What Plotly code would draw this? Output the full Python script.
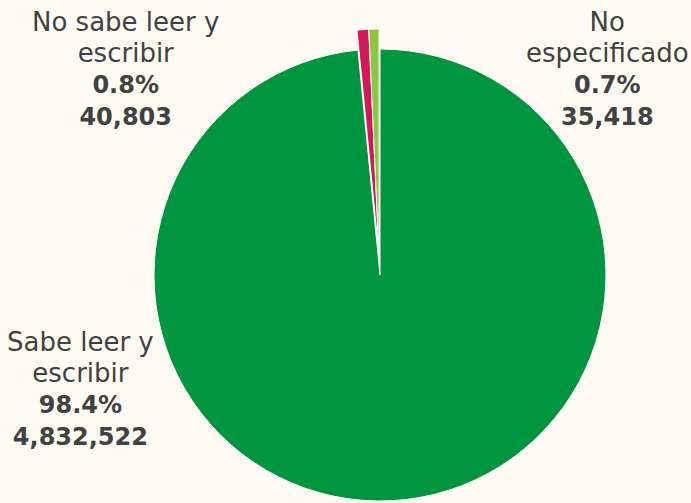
import math
import plotly.graph_objects as go

# ---- data ----
categories = ["Sabe leer y escribir", "No sabe leer y escribir", "No especificado"]
label_lines = ["Sabe leer y<br>escribir", "No sabe leer y<br>escribir", "No<br>especificado"]
values = [4832522, 40803, 35418]
colors = ["#00953F", "#D5185B", "#8CC63F"]

# ---- geometry / style ----
W, H = 691, 503
CX, CY, R = 380, 275, 226
PULL_PX = 20
BG = "#FFFAF2"
TXT = "#414143"
FONT = "DejaVu Sans"

# label anchor positions in pixels (center x, top y)
label_pos = [(80, 325), (125, 5), (607, 5)]

total = sum(values)


def dom(cx, cy, r):
    return dict(x=[(cx - r) / W, (cx + r) / W], y=[1 - (cy + r) / H, 1 - (cy - r) / H])


# Main pie: big slice only (small slices transparent, drawn pulled out by trace B)
colors_a = [colors[0], "rgba(0,0,0,0)", "rgba(0,0,0,0)"]
line_a = ["white", "rgba(0,0,0,0)", "rgba(0,0,0,0)"]

# Pulled small slices: same pie shifted along the bisector of the small slices
start_frac = values[0] / total
mid_deg = (start_frac * 360 + 360) / 2
theta = math.radians(mid_deg)
cxb = CX + PULL_PX * math.sin(theta)
cyb = CY - PULL_PX * math.cos(theta)
colors_b = ["rgba(0,0,0,0)", colors[1], colors[2]]
line_b = ["rgba(0,0,0,0)", "white", "white"]

common = dict(
    labels=categories,
    values=values,
    sort=False,
    direction="clockwise",
    rotation=0,
    textinfo="none",
    hoverinfo="skip",
    showlegend=False,
)

fig = go.Figure()
fig.add_trace(go.Pie(domain=dom(CX, CY, R),
                     marker=dict(colors=colors_a, line=dict(color=line_a, width=1)),
                     **common))
fig.add_trace(go.Pie(domain=dom(cxb, cyb, R),
                     marker=dict(colors=colors_b, line=dict(color=line_b, width=1)),
                     **common))

annotations = []
for name, v, (px, py) in zip(label_lines, values, label_pos):
    pct = v / total * 100
    parts = name.split("<br>")
    reg = "<br>".join(f'<span style="font-size:26px">{p}</span>' for p in parts)
    text = f"{reg}<br><b>{pct:.1f}%</b><br><b>{v:,}</b>"
    annotations.append(dict(
        text=text, xref="paper", yref="paper",
        x=px / W, y=1 - py / H, xanchor="center", yanchor="top",
        showarrow=False, align="center",
        font=dict(family=FONT, size=24, color=TXT),
    ))

fig.update_layout(
    width=W, height=H,
    margin=dict(l=0, r=0, t=0, b=0),
    paper_bgcolor=BG, plot_bgcolor=BG,
    annotations=annotations,
)

fig.write_html("out.html",
               config={"displayModeBar": False, "staticPlot": True},
               post_script="document.body.style.margin='0';document.body.style.overflow='hidden';")
